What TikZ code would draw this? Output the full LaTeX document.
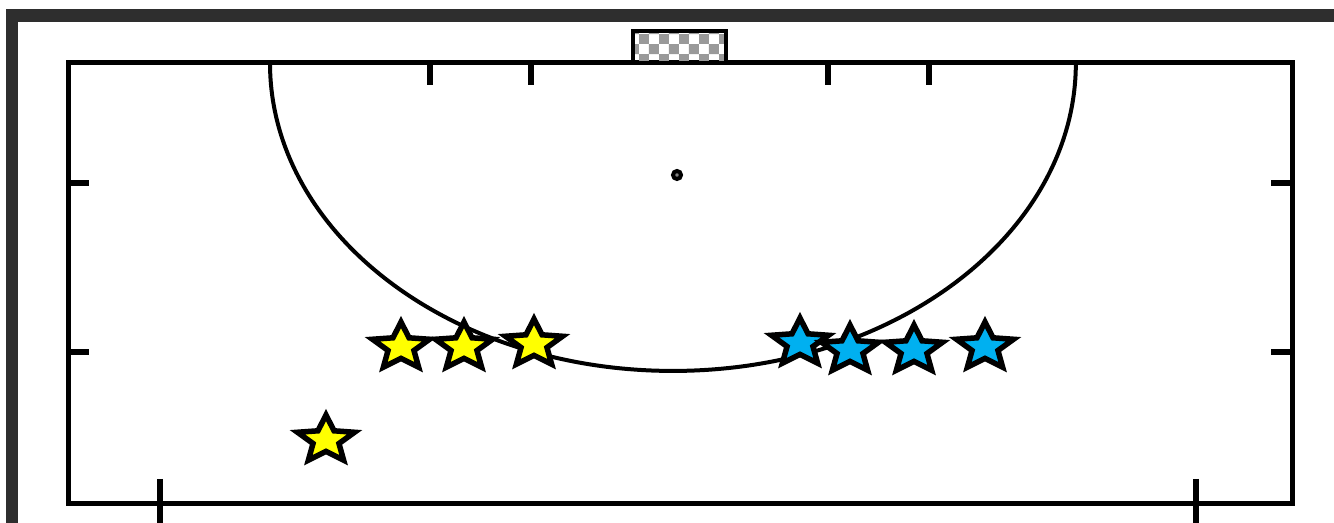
\documentclass[tikz,border=0pt]{standalone}
\usepackage{tikz}
\usetikzlibrary{shapes.geometric,patterns}
\definecolor{teamyellow}{HTML}{FFFF00}
\definecolor{teamblue}{HTML}{00B0F0}
\definecolor{framegray}{HTML}{2E2E2E}

\begin{document}
\begin{tikzpicture}[x=0.02cm,y=0.02cm,
player/.style={star,star points=5,star point ratio=2.2,draw=black,line width=0.11cm,inner sep=0pt,minimum size=1.0cm,transform shape,xscale=1.2},
yel/.style={player,fill=teamyellow},
blu/.style={player,fill=teamblue},
tickline/.style={line width=0.11cm}]
\useasboundingbox (0,0) rectangle (1334,523);
\clip (0,0) rectangle (1334,523);
% outer frame and pitch
\draw[framegray,line width=0.26cm] (12,-50) rectangle (1400,507);
\draw[line width=0.1cm] (68,19) rectangle (1292,460);
% ticks
\foreach \x in {160,1196} \draw[tickline] (\x,44)--(\x,-10);
\foreach \x in {430,531,828,929} \draw[tickline] (\x,460)--(\x,438);
\foreach \y in {340,171} {
  \draw[tickline] (68,\y)--(89,\y);
  \draw[tickline] (1271,\y)--(1292,\y);
}
% goal, circle and spot
\draw[line width=0.08cm,pattern=checkerboard,pattern color=gray!80] (633,460) rectangle (726,492);
\draw[line width=0.08cm] (270,460) arc[start angle=180,end angle=360,x radius=8.06cm,y radius=6.16cm];
\draw[line width=0.08cm,fill=gray] (677,348) circle[radius=0.08cm];
% players
\node[yel] (y1) at (401,176) {};
\node[yel] (y2) at (464,176) {};
\node[yel] (y3) at (534,179) {};
\node[yel] (y4) at (326,83) {};
\node[blu] (b1) at (800,180) {};
\node[blu] (b2) at (850,173) {};
\node[blu] (b3) at (914,173) {};
\node[blu] (b4) at (985,176) {};
\end{tikzpicture}
\end{document}
